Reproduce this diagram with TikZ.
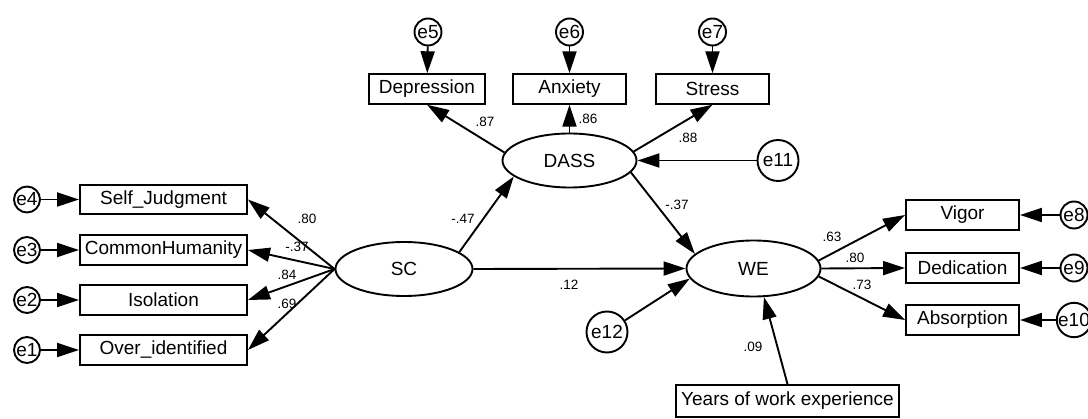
\documentclass[tikz,border=0pt]{standalone}
\usepackage{fontspec}
\setmainfont{Liberation Sans}
\usetikzlibrary{arrows.meta,shapes.geometric}
\begin{document}
\begin{tikzpicture}[x=1pt,y=-1pt,
  every node/.style={font=\fontsize{19}{22}\selectfont},
  obs/.style={draw, line width=1.9pt, minimum width=#1, minimum height=29.5pt, inner sep=0pt},
  lat/.style={draw, ellipse, line width=1.9pt, minimum width=#1, minimum height=54pt, inner sep=0pt},
  err/.style={draw, circle, line width=1.9pt, minimum size=#1, inner sep=0pt},
  arr/.style={line width=1.9pt, -{Triangle[length=22pt,width=14pt]}},
  coef/.style={font=\fontsize{13.5}{15}\selectfont, inner sep=0pt}
]
\useasboundingbox (0,0) rectangle (1088,419);

% observed boxes
\node[obs=167pt] (sj) at (163.5,199.5) {Self\_Judgment};
\node[obs=167pt] (ch) at (163.5,250) {CommonHumanity};
\node[obs=167pt] (iso) at (163.5,300) {Isolation};
\node[obs=167pt] (oi) at (163.5,350) {Over\_identified};
\node[obs=116pt] (dep) at (427,89) {Depression};
\node[obs=113pt] (anx) at (569.5,89) {Anxiety};
\node[obs=113pt] (str) at (712.5,89) {Stress};
\node[obs=113pt] (vig) at (962.5,215) {Vigor};
\node[obs=113pt] (ded) at (962.5,268) {Dedication};
\node[obs=113pt] (abs) at (962.5,320) {Absorption};
\node[obs=223pt, minimum height=32pt] (yrs) at (787.5,401) {Years of work experience};

% latent
\node[lat=137pt] (SC) at (404,269) {SC};
\node[lat=134pt] (DASS) at (569.5,160.5) {DASS};
\node[lat=134pt, minimum height=56pt] (WE) at (753.5,268.5) {WE};

% errors
\node[err=26pt] (e4) at (27,199.5) {e4};
\node[err=26pt] (e3) at (27,250) {e3};
\node[err=26pt] (e2) at (27,300) {e2};
\node[err=26pt] (e1) at (27,350) {e1};
\node[err=27pt] (e5) at (428,32) {e5};
\node[err=27pt] (e6) at (569.5,32) {e6};
\node[err=27pt] (e7) at (712.5,32) {e7};
\node[err=41pt] (e11) at (778,160.5) {e11};
\node[err=41pt] (e12) at (607,332) {e12};
\node[err=27pt] (e8) at (1074,215) {e8};
\node[err=27pt] (e9) at (1074,268) {e9};
\node[err=27pt] (e10) at (1074,320) {e10};

% error arrows
\draw[arr] (e4) -- (sj);
\draw[arr] (e3) -- (ch);
\draw[arr] (e2) -- (iso);
\draw[arr] (e1) -- (oi);
\draw[arr] (e5) -- (dep);
\draw[arr] (e6) -- (anx);
\draw[arr] (e7) -- (str);
\draw[arr] (e11) -- (DASS);
\draw[arr] (e12) -- (WE.189);
\draw[arr] (e8) -- (vig);
\draw[arr] (e9) -- (ded);
\draw[arr] (e10) -- (abs);

% loadings
\draw[arr] (SC.west) -- (sj.east);
\draw[arr] (SC.west) -- (ch.east);
\draw[arr] (SC.west) -- (iso.east);
\draw[arr] (SC.west) -- (oi.east);
\draw[arr] (DASS.173) -- (dep.south);
\draw[arr] (DASS.north) -- (anx.south);
\draw[arr] (DASS.8) -- (str.south);
\draw[arr] (WE.7) -- (vig.west);
\draw[arr] (WE.east) -- (ded.west);
\draw[arr] (WE.-7) -- (abs.west);

% structural
\draw[arr] (SC.17) -- (DASS.196);
\draw[arr] (DASS.-11) -- (WE.166);
\draw[arr] (SC.east) -- (WE.west);
\draw[arr] (yrs.north) -- (WE.-70);

% coefficients
\node[coef] (c1) at (307,219) {.80};
\node[coef] (c2) at (297,247) {-.37};
\node[coef] (c3) at (287,275) {.84};
\node[coef] (c4) at (287,304) {.69};
\node[coef] (c5) at (463,219) {-.47};
\node[coef] (c6) at (485,122) {.87};
\node[coef] (c7) at (588,119) {.86};
\node[coef] (c8) at (688,138) {.88};
\node[coef] (c9) at (677,205) {-.37};
\node[coef] (c10) at (569,285) {.12};
\node[coef] (c11) at (832,237) {.63};
\node[coef] (c12) at (855,258) {.80};
\node[coef] (c13) at (862,285) {.73};
\node[coef] (c14) at (753,347) {.09};
\end{tikzpicture}
\end{document}
